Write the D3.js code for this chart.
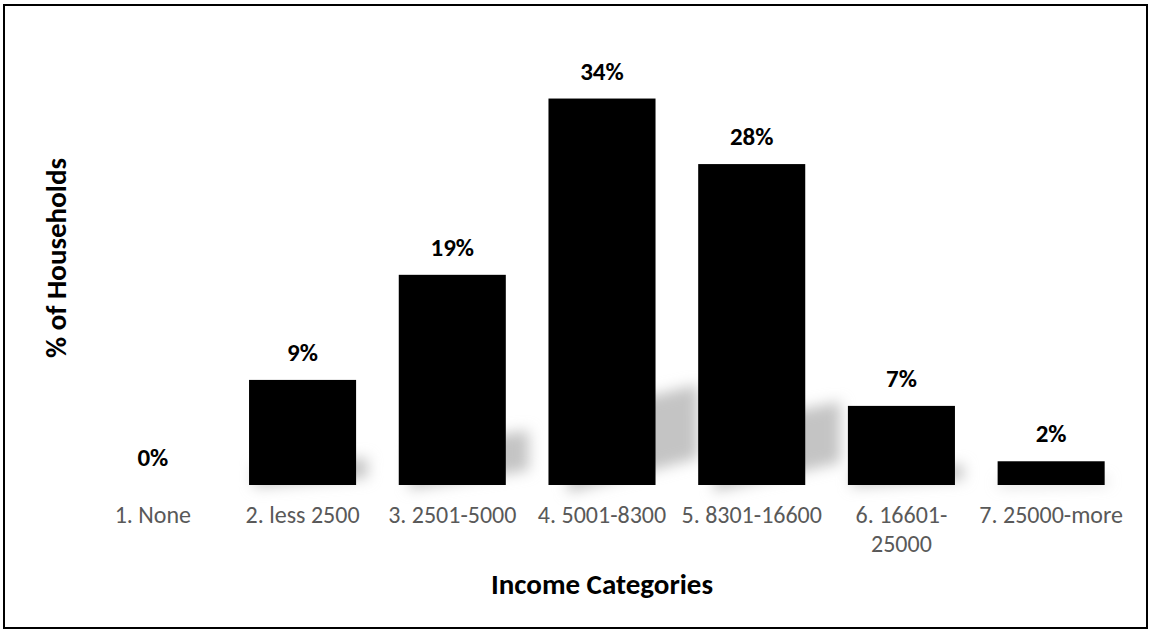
<!DOCTYPE html>
<html>
<head>
<meta charset="utf-8">
<script src="https://cdn.jsdelivr.net/npm/d3@7"></script>
<style>
  html, body { margin: 0; padding: 0; background: #fff; }
  svg { display: block; }
  text { font-family: Carlito, Calibri, Lato, sans-serif; }
</style>
</head>
<body>
<svg id="chart" width="1151" height="633"></svg>
<script>
// Share of households by monthly income bracket (percent)
const categories = [
  "1. None", "2. less 2500", "3. 2501-5000", "4. 5001-8300",
  "5. 8301-16600", "6. 16601-25000", "7. 25000-more"
];
const shares = [0, 9.3, 18.6, 34.2, 28.4, 7.0, 2.1];
const yMax = 40;

const W = 1151, H = 633;
const margin = { left: 78, right: 25, top: 33, bottom: 148 };
const svg = d3.select("#chart");

const x = d3.scaleBand()
  .domain(categories)
  .range([margin.left, W - margin.right])
  .paddingInner(0.285)
  .paddingOuter(0.1425);

const y = d3.scaleLinear()
  .domain([0, yMax])
  .range([H - margin.bottom, margin.top]);

const base = y(0);

// outer frame
svg.append("rect")
  .attr("x", 4).attr("y", 5)
  .attr("width", W - 8).attr("height", H - 10)
  .attr("fill", "#fff")
  .attr("stroke", "#000")
  .attr("stroke-width", 2);

// soft perspective shadow falling up and to the right of each bar
const defs = svg.append("defs");
defs.append("filter")
  .attr("id", "soft")
  .attr("x", "-50%").attr("y", "-50%")
  .attr("width", "200%").attr("height", "200%")
  .append("feGaussianBlur")
  .attr("stdDeviation", 7);

const data = categories.map((c, i) => ({ cat: c, v: shares[i] }));

svg.append("g")
  .attr("filter", "url(#soft)")
  .selectAll("path")
  .data(data.filter(d => d.v > 0))
  .join("path")
  .attr("fill", "#c4c4c4")
  .attr("d", d => {
    const x0 = x(d.cat), x1 = x0 + x.bandwidth();
    const h = base - y(d.v);
    const pts = [
      [x0 + 0.05 * h, base + 0.02 * h],
      [x1 + 0.11 * h, base - 0.07 * h],
      [x1 + 0.11 * h, base - 0.26 * h],
      [x0 + 0.05 * h, base - 0.18 * h]
    ];
    return d3.line()(pts) + "Z";
  });

// bars
svg.append("g")
  .selectAll("rect")
  .data(data)
  .join("rect")
  .attr("x", d => x(d.cat))
  .attr("y", d => y(d.v))
  .attr("width", x.bandwidth())
  .attr("height", d => base - y(d.v))
  .attr("fill", "#000");

// value labels
const pct = d3.format(".0f");
svg.append("g")
  .selectAll("text")
  .data(data)
  .join("text")
  .attr("x", d => x(d.cat) + x.bandwidth() / 2)
  .attr("y", d => y(d.v) - 19)
  .attr("text-anchor", "middle")
  .attr("font-size", 25)
  .attr("font-weight", "bold")
  .attr("fill", "#000")
  .text(d => pct(d.v) + "%");

// category axis (no line, no ticks)
const xAxis = svg.append("g")
  .attr("transform", `translate(0,${base})`)
  .call(d3.axisBottom(x).tickSize(0).tickPadding(38));
xAxis.select(".domain").remove();
xAxis.selectAll("text")
  .attr("font-size", 24)
  .attr("fill", "#595959")
  .attr("dy", 0)
  .each(function (d) {
    const t = d3.select(this);
    const parts = d === "6. 16601-25000" ? ["6. 16601-", "25000"] : [d];
    t.text(null);
    parts.forEach((p, i) => {
      t.append("tspan")
        .attr("x", 0)
        .attr("dy", i === 0 ? 0 : 29)
        .text(p);
    });
  });

// axis titles
svg.append("text")
  .attr("x", (margin.left + W - margin.right) / 2)
  .attr("y", 594)
  .attr("text-anchor", "middle")
  .attr("font-size", 29)
  .attr("font-weight", "bold")
  .attr("fill", "#000")
  .text("Income Categories");

svg.append("text")
  .attr("transform", "translate(66,258) rotate(-90)")
  .attr("text-anchor", "middle")
  .attr("font-size", 29)
  .attr("font-weight", "bold")
  .attr("fill", "#000")
  .text("% of Households");
</script>
</body>
</html>
